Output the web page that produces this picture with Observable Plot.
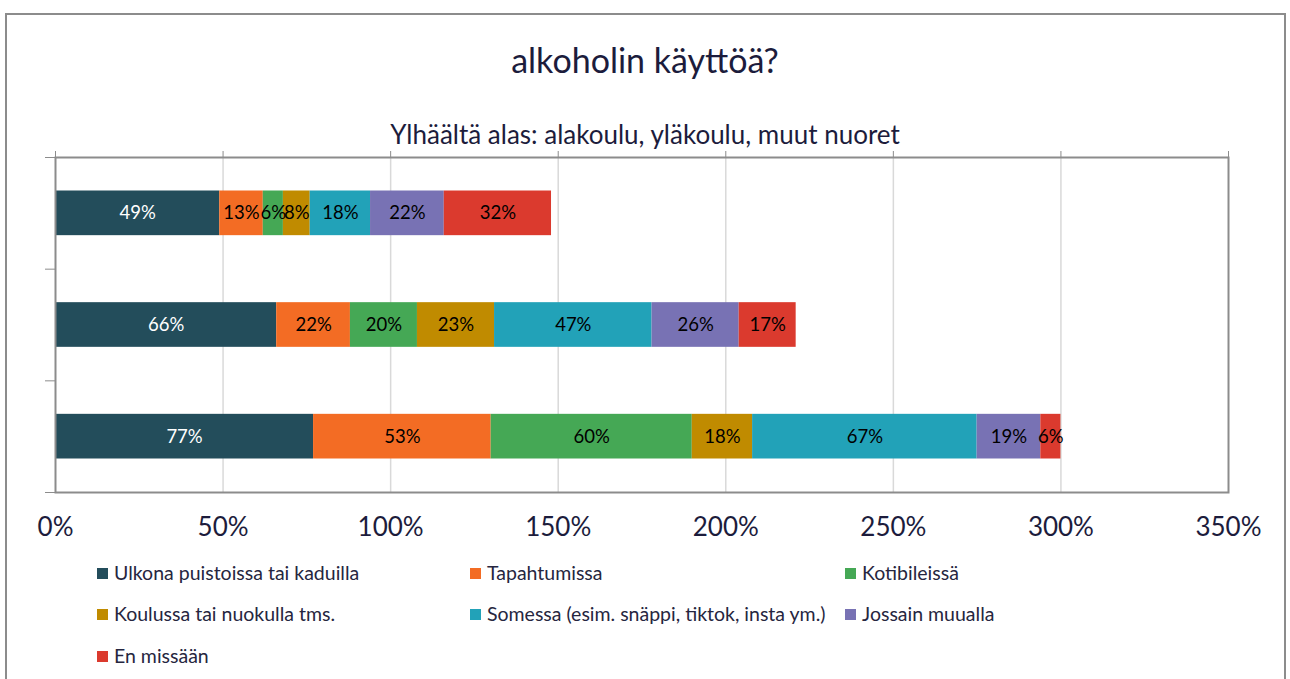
<!DOCTYPE html>
<html><head><meta charset="utf-8">
<script src="https://cdn.jsdelivr.net/npm/d3@7"></script>
<script src="https://cdn.jsdelivr.net/npm/@observablehq/plot@0.6"></script>
<style>
body{margin:0;background:#fff;font-family:Lato,"Open Sans",sans-serif;}
#wrap{position:relative;width:1290px;height:679px;overflow:hidden;}
#border{position:absolute;left:5px;top:13px;width:1281px;height:720px;border:2px solid #8c8c8c;box-sizing:border-box;}
#title{position:absolute;left:0;top:43px;width:1290px;text-align:center;font-size:34px;line-height:34px;color:#1c1c3c;}
#subtitle{position:absolute;left:0;top:121px;width:1290px;text-align:center;font-size:26px;line-height:26px;color:#1c1c3c;}
#chart{position:absolute;left:0;top:0;}
.leg{position:absolute;font-size:19.5px;color:#262640;white-space:nowrap;line-height:20px;}
.leg span{display:inline-block;width:11px;height:11px;margin-right:6px;vertical-align:1px;}
</style></head>
<body><div id="wrap"><div id="border"></div><div id="chart"></div>
<div id="title">alkoholin käyttöä?</div>
<div id="subtitle">Ylhäältä alas: alakoulu, yläkoulu, muut nuoret</div>
<div id="legend"></div></div>
<script>
const groups = ["alakoulu", "yläkoulu", "muut nuoret"];
const seriesNames = ["Ulkona puistoissa tai kaduilla", "Tapahtumissa", "Kotibileissä", "Koulussa tai nuokulla tms.", "Somessa (esim. snäppi, tiktok, insta ym.)", "Jossain muualla", "En missään"];
const colors = ["#234D5B", "#F36C24", "#45A855", "#C08B00", "#22A2B8", "#7872B4", "#DB3A2E"];
const ulkona = [49, 66, 77];
const tapahtumissa = [13, 22, 53];
const kotibileissa = [6, 20, 60];
const koulussa = [8, 23, 18];
const somessa = [18, 47, 67];
const muualla = [22, 26, 19];
const enMissaan = [32, 17, 6];
const xTicks = [0, 50, 100, 150, 200, 250, 300, 350];

const seriesValues = [ulkona, tapahtumissa, kotibileissa, koulussa, somessa, muualla, enMissaan];
const rows = [];
groups.forEach((g, gi) => {
  let acc = 0;
  seriesValues.forEach((vals, si) => {
    const v = vals[gi];
    rows.push({group: g, gi, series: seriesNames[si], si, value: v, x1: acc, x2: acc + v});
    acc += v;
  });
});

const chart = Plot.plot({
  width: 1290, height: 560,
  marginLeft: 55, marginRight: 62, marginTop: 157, marginBottom: 68,
  style: {fontFamily: "Lato, 'Open Sans', sans-serif", background: "transparent"},
  x: {domain: [0, 350]},
  y: {domain: [3, 0]},
  color: {domain: seriesNames, range: colors},
  marks: [
    Plot.ruleX(xTicks.slice(1, -1), {stroke: "#d9d9d9", strokeWidth: 1.5}),
    Plot.rect(rows, {x1: "x1", x2: "x2", y1: d => d.gi + 0.3, y2: d => d.gi + 0.7, fill: "series"}),
    Plot.text(rows, {x: d => (d.x1 + d.x2) / 2, y: d => d.gi + 0.5, text: d => d.value + "%", fill: d => d.si === 0 ? "white" : "black", fontSize: 18.5}),
    Plot.axisX(xTicks, {anchor: "top", tickSize: 7, tickFormat: () => "", stroke: "#8c8c8c"}),
    Plot.axisX(xTicks, {anchor: "bottom", tickSize: 0, tickPadding: 25, tickFormat: d => d + "%", fontSize: 26, fill: "#1c1c3c"}),
    Plot.axisY([0, 1, 2, 3], {anchor: "left", tickSize: 10, tickFormat: () => "", stroke: "#8c8c8c"}),
    Plot.frame({stroke: "#8c8c8c", strokeWidth: 2})
  ]
});
document.getElementById("chart").appendChild(chart);

const legPos = [[97, 573], [470, 573], [845, 573], [97, 614], [470, 614], [845, 614], [97, 656]];
const legend = document.getElementById("legend");
seriesNames.forEach((s, i) => {
  const d = document.createElement("div");
  d.className = "leg";
  d.style.left = legPos[i][0] + "px";
  d.style.top = (legPos[i][1] - 10) + "px";
  d.innerHTML = `<span style="background:${colors[i]}"></span>${s}`;
  legend.appendChild(d);
});
</script></body></html>
